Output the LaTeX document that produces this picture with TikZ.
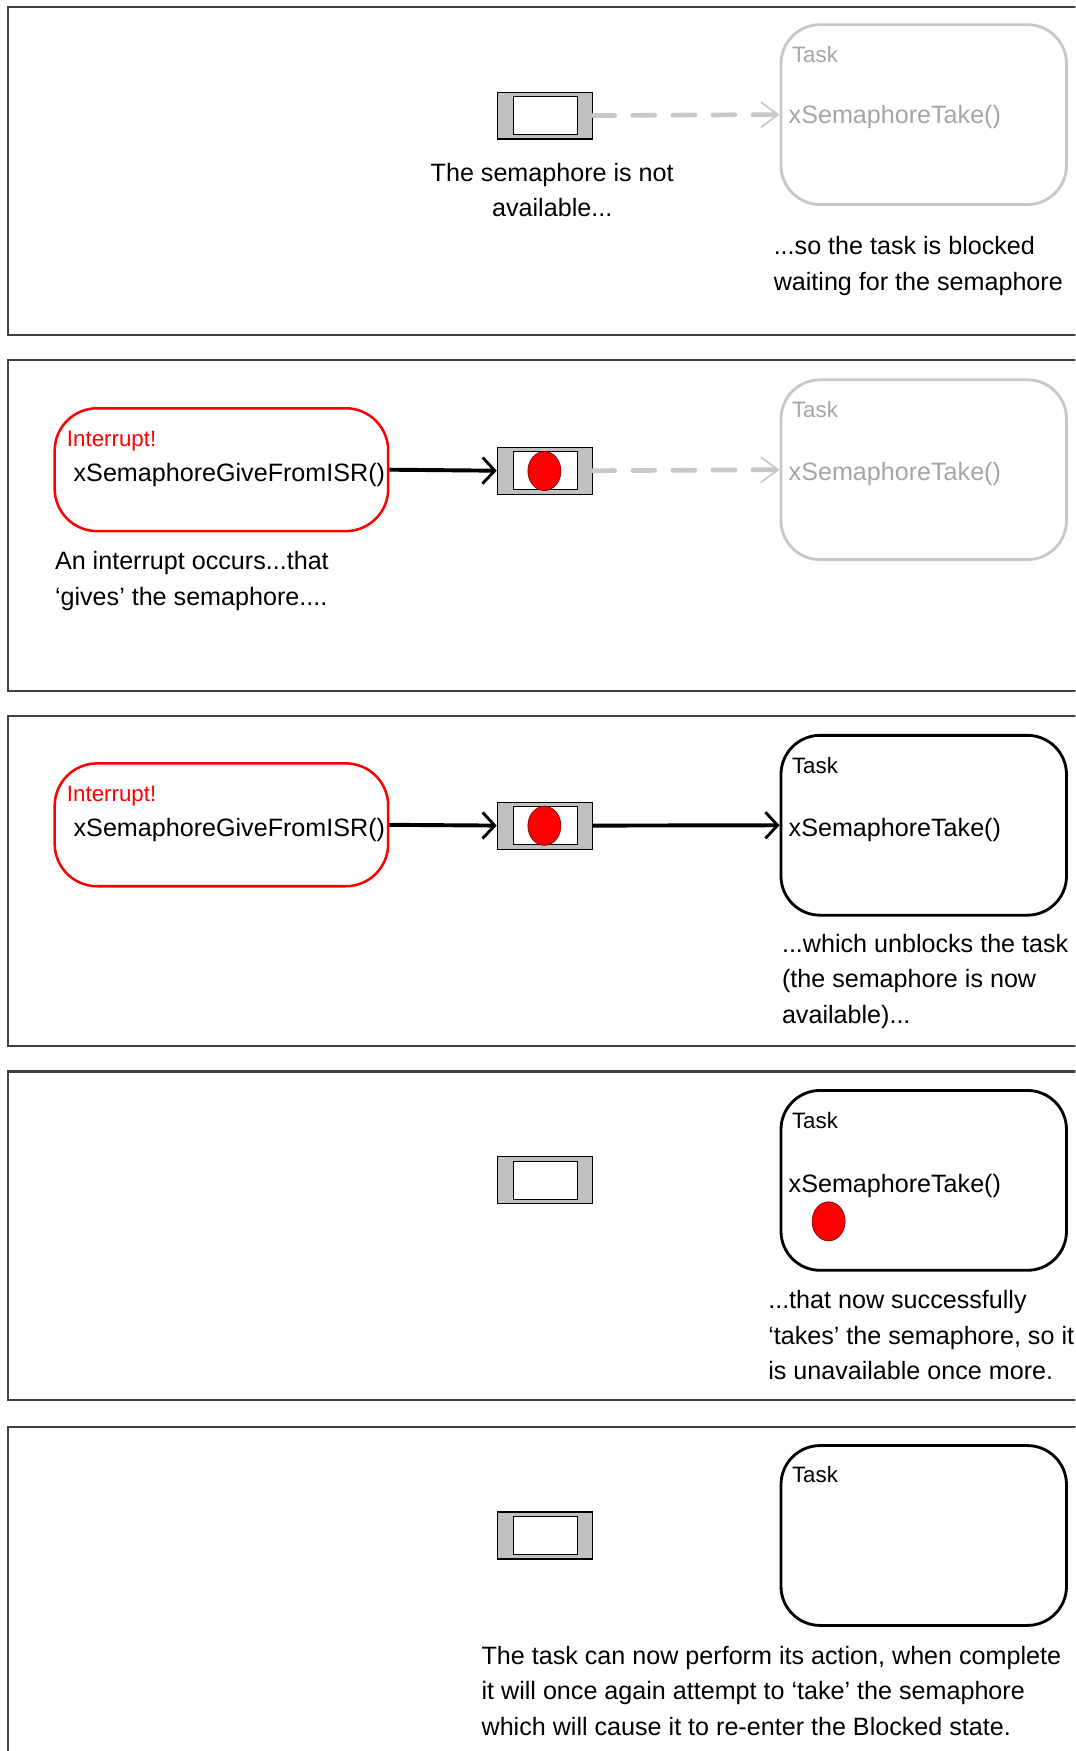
\documentclass[tikz,border=0pt]{standalone}
\usepackage{fontspec}
\setmainfont{Liberation Sans}
\usepackage{tikz}
\usetikzlibrary{shapes.geometric, arrows.meta, positioning}
\definecolor{framegray}{RGB}{64,64,64}
\definecolor{semgray}{RGB}{192,192,192}
\definecolor{fadedline}{RGB}{200,200,200}
\definecolor{fadedtext}{RGB}{165,165,165}
\definecolor{isrred}{RGB}{255,0,0}
\newcommand{\captionfont}{\fontsize{16}{22.6}\selectfont}
\newcommand{\labelfont}{\fontsize{14.2}{17}\selectfont}

\begin{document}
\begin{tikzpicture}[x=0.025cm, y=0.025cm,
    frame/.style={draw=framegray, line width=1.3pt},
    sembox/.style={draw=black, line width=0.7pt, fill=semgray, minimum width=2.125cm, minimum height=1.05cm, inner sep=0pt},
    semslot/.style={draw=black, line width=0.7pt, fill=white, minimum width=1.43cm, minimum height=0.85cm, inner sep=0pt},
    token/.style={ellipse, draw=black!55!red, line width=0.4pt, fill=isrred, minimum width=0.74cm, minimum height=0.875cm, inner sep=0pt},
    taskbox/.style={draw=black, line width=1.8pt, rounded corners=0.875cm, minimum width=6.39cm, minimum height=4.025cm, inner sep=0pt},
    blockedtask/.style={taskbox, draw=fadedline},
    isrbox/.style={draw=isrred, line width=1.6pt, rounded corners=0.95cm, minimum width=7.465cm, minimum height=2.75cm, inner sep=0pt},
    txt/.style={font=\captionfont, inner sep=0pt, anchor=base west, align=left},
    tasklbl/.style={font=\labelfont, inner sep=0pt, anchor=base west},
    give/.style={-{Straight Barb[length=7.8pt, width=16.7pt, line width=1.8pt]}, line width=2.5pt},
    wait/.style={-{Straight Barb[length=11pt, width=16pt, line width=1.1pt]}, draw=fadedline, line width=3pt, line cap=round, dash pattern=on 14pt off 11.5pt}]

    \useasboundingbox (0,0) rectangle (963,-1568);
    \clip (0,0) rectangle (963,-1568);

    % Panel 1: semaphore not available, task blocked
    \draw[frame] (970,-6) -- (7.5,-6) -- (7.5,-300) -- (970,-300);
    \node[sembox] (sem1) at (487.8,-103.5) {};
    \node[semslot] (slot1) at (488.2,-103.5) {};
    \node[blockedtask] (task1) at (827.2,-102.6) {};
    \node[tasklbl, text=fadedtext] (tname1) at (709,-56) {Task};
    \node[txt, text=fadedtext] (tcall1) at (706,-111) {xSemaphoreTake()};
    % multi-line notes sit on the baseline of their last line
    \node[font=\captionfont, inner sep=0pt, anchor=base, align=center] (note1) at (494.5,-194) {The semaphore is not\\available...};
    \node[txt] (blk1) at (692.6,-260) {...so the task is blocked\\waiting for the semaphore};
    \draw[wait] (sem1.east) -- (task1.west);

    % Panel 2: interrupt gives the semaphore
    \draw[frame] (970,-322.5) -- (7.5,-322.5) -- (7.5,-619) -- (970,-619);
    \node[isrbox] (isr2) at (198.3,-420.6) {};
    \node[tasklbl, text=isrred] (irq2) at (59.7,-400) {Interrupt!};
    \node[txt] (give2) at (65.7,-431.5) {xSemaphoreGiveFromISR()};
    \node[sembox] (sem2) at (487.8,-421.5) {};
    \node[semslot] (slot2) at (488.2,-421.5) {};
    \node[token] (tok2) at (487.5,-421.8) {};
    \node[blockedtask] (task2) at (827.2,-420.6) {};
    \node[tasklbl, text=fadedtext] (tname2) at (709,-374) {Task};
    \node[txt, text=fadedtext] (tcall2) at (706,-430) {xSemaphoreTake()};
    \node[txt] (note2) at (49,-542) {An interrupt occurs...that\\`gives' the semaphore....};
    \draw[give] (isr2.east) -- (sem2.west);
    \draw[wait] (sem2.east) -- (task2.west);

    % Panel 3: the task is unblocked
    \draw[frame] (970,-641) -- (7.5,-641) -- (7.5,-937) -- (970,-937);
    \node[isrbox] (isr3) at (198.3,-738.6) {};
    \node[tasklbl, text=isrred] (irq3) at (59.7,-718) {Interrupt!};
    \node[txt] (give3) at (65.7,-749.5) {xSemaphoreGiveFromISR()};
    \node[sembox] (sem3) at (487.8,-739.3) {};
    \node[semslot] (slot3) at (488.2,-739.3) {};
    \node[token] (tok3) at (487.5,-739.5) {};
    \node[taskbox] (task3) at (827.2,-739) {};
    \node[tasklbl] (tname3) at (709,-692.8) {Task};
    \node[txt] (tcall3) at (706,-749) {xSemaphoreTake()};
    \node[txt] (note3) at (700,-916.5) {...which unblocks the task\\(the semaphore is now\\available)...};
    \draw[give] (isr3.east) -- (sem3.west);
    \draw[give] (sem3.east) -- (task3.west);

    % Panel 4: the task takes the semaphore
    \draw[frame] (970,-959.5) -- (7.5,-959.5) -- (7.5,-1254) -- (970,-1254);
    \node[sembox] (sem4) at (487.8,-1057) {};
    \node[semslot] (slot4) at (488.2,-1057) {};
    \node[taskbox] (task4) at (827.2,-1057) {};
    \node[tasklbl] (tname4) at (709,-1010.8) {Task};
    \node[txt] (tcall4) at (706,-1067.5) {xSemaphoreTake()};
    \node[token] (tok4) at (742,-1093.7) {};
    \node[txt] (note4) at (687.7,-1235.6) {...that now successfully\\`takes' the semaphore, so it\\is unavailable once more.};

    % Panel 5: back to the Blocked state
    \draw[frame] (970,-1277.5) -- (7.5,-1277.5) -- (7.5,-1580);
    \node[sembox] (sem5) at (487.8,-1375) {};
    \node[semslot] (slot5) at (488.2,-1375) {};
    \node[taskbox] (task5) at (827.2,-1375) {};
    \node[tasklbl] (tname5) at (709,-1327.3) {Task};
    \node[txt] (note5) at (431,-1554) {The task can now perform its action, when complete\\it will once again attempt to `take' the semaphore\\which will cause it to re-enter the Blocked state.};
\end{tikzpicture}
\end{document}
